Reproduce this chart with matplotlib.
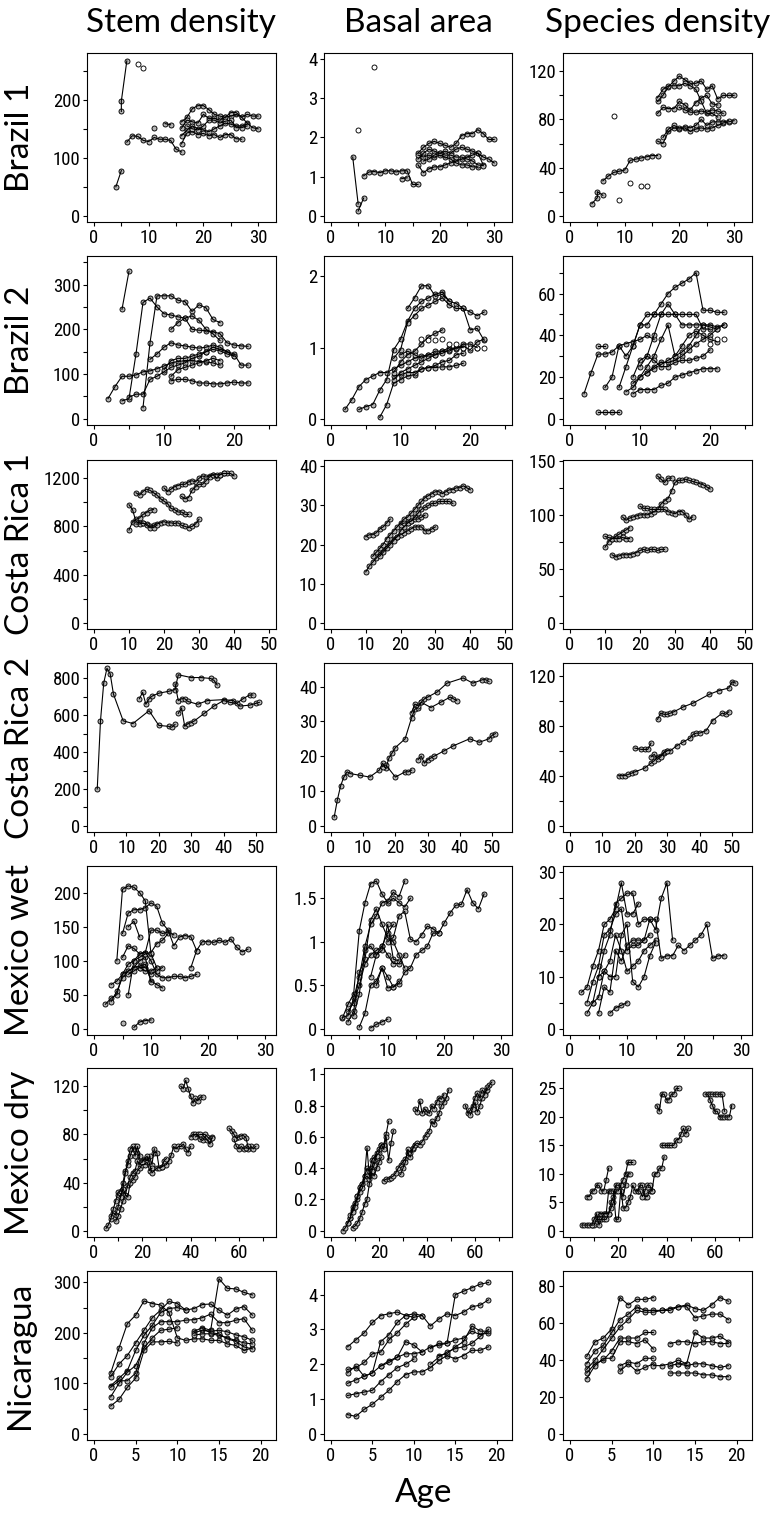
import matplotlib
matplotlib.use('Agg')
import matplotlib.pyplot as plt
from matplotlib.ticker import MultipleLocator, FuncFormatter


def yrs(a, b):
    # consecutive census years a..b
    return list(range(a, b + 1))


# ==== Brazil 1 ====
brazil1_stem = [
    ([4, 5], [50, 78]),
    ([5, 5, 6], [180, 198, 267]),
    (yrs(6, 16), [127, 138, 137, 130, 128, 135, 132, 132, 130, 115, 110]),
    ([11], [152]),
    ([13, 14], [159, 157]),
    (yrs(16, 30), [162, 170, 185, 190, 190, 183, 175, 172, 170, 172, 175, 170, 175, 172, 172]),
    (yrs(16, 30), [151, 165, 162, 160, 175, 168, 168, 165, 170, 178, 178, 170, 160, 152, 150]),
    (yrs(16, 28), [138, 148, 155, 150, 148, 145, 150, 155, 160, 158, 155, 155, 158]),
    (yrs(16, 27), [124, 143, 145, 140, 142, 138, 140, 135, 140, 140, 133, 132]),
    (yrs(17, 28), [155, 150, 148, 155, 165, 165, 160, 163, 165, 152, 152, 155]),
]
brazil1_stem_open = [([8, 9], [262, 255])]

brazil1_basal = [
    ([4, 5], [1.5, 0.3]),
    ([5, 6], [0.12, 0.45]),
    (yrs(6, 16), [1.02, 1.12, 1.13, 1.1, 1.15, 1.15, 1.12, 1.15, 1.15, 0.8, 0.8]),
    ([13, 14], [0.95, 0.97]),
    (yrs(16, 30), [1.6, 1.75, 1.85, 1.9, 1.85, 1.8, 1.75, 1.85, 2.05, 2.1, 2.1, 2.2, 2.1, 1.95, 1.95]),
    (yrs(16, 30), [1.45, 1.6, 1.7, 1.65, 1.6, 1.65, 1.6, 1.7, 1.75, 1.7, 1.65, 1.6, 1.5, 1.45, 1.35]),
    (yrs(16, 28), [1.3, 1.1, 1.2, 1.25, 1.25, 1.3, 1.35, 1.4, 1.45, 1.5, 1.55, 1.6, 1.3]),
    (yrs(16, 27), [1.55, 1.5, 1.55, 1.5, 1.55, 1.5, 1.45, 1.35, 1.3, 1.3, 1.25, 1.25]),
    (yrs(17, 28), [1.4, 1.45, 1.55, 1.6, 1.55, 1.55, 1.5, 1.5, 1.45, 1.4, 1.3, 1.28]),
]
brazil1_basal_open = [([5, 8], [2.2, 3.8])]

brazil1_species = [
    ([4, 5, 5, 6], [10, 15, 20, 17]),
    (yrs(6, 16), [29, 33, 36, 37, 38, 46, 47, 48, 49, 50, 50]),
    (yrs(16, 30), [62, 60, 70, 73, 72, 73, 70, 72, 73, 72, 73, 75, 77, 78, 79]),
    (yrs(16, 30), [95, 100, 107, 112, 116, 113, 110, 110, 112, 105, 108, 97, 100, 100, 100]),
    (yrs(16, 27), [85, 90, 89, 89, 95, 92, 88, 94, 98, 100, 93, 92]),
    (yrs(16, 27), [98, 105, 108, 108, 108, 110, 108, 105, 95, 85, 85, 82]),
    (yrs(17, 29), [65, 72, 75, 73, 74, 73, 75, 80, 75, 78, 78, 78, 79]),
    (yrs(20, 28), [90, 88, 86, 86, 87, 86, 88, 87, 85]),
]
brazil1_species_open = [([8, 9, 11, 13, 14], [83, 13, 27, 25, 25])]

# ==== Brazil 2 ====
brazil2_stem = [
    (yrs(2, 18), [45, 72, 95, 95, 98, 105, 107, 112, 118, 125, 128, 130, 130, 128, 127, 125, 120]),
    ([4, 5], [245, 330]),
    (yrs(4, 22), [40, 45, 145, 260, 270, 250, 235, 232, 228, 225, 200, 198, 197, 195, 190, 170, 165, 163, 162]),
    (yrs(5, 20), [48, 55, 55, 88, 95, 105, 115, 120, 125, 135, 140, 150, 160, 155, 150, 140]),
    (yrs(7, 18), [25, 170, 275, 275, 275, 265, 262, 240, 255, 248, 222, 215]),
    (yrs(8, 22), [133, 145, 160, 170, 165, 163, 160, 158, 160, 165, 160, 150, 145, 120, 120]),
    (yrs(11, 18), [200, 215, 225, 230, 220, 200, 190, 175]),
    (yrs(11, 22), [85, 88, 88, 85, 80, 80, 78, 78, 80, 82, 80, 80]),
    (yrs(10, 20), [110, 130, 135, 135, 140, 145, 150, 155, 152, 145, 140]),
    (yrs(11, 18), [95, 110, 115, 120, 125, 130, 135, 130]),
]
brazil2_stem_open = []

brazil2_basal = [
    (yrs(2, 19), [0.13, 0.27, 0.45, 0.55, 0.6, 0.65, 0.65, 0.7, 0.75, 0.8, 0.85, 0.88, 0.9, 0.95, 0.95, 0.95, 1.0, 1.0]),
    (yrs(4, 22), [0.13, 0.17, 0.2, 0.4, 0.55, 0.97, 1.12, 1.37, 1.55, 1.65, 1.7, 1.75, 1.78, 1.65, 1.62, 1.55, 1.25, 1.27, 1.1]),
    (yrs(7, 19), [0.02, 0.2, 0.5, 0.55, 0.6, 0.62, 0.7, 0.72, 0.75, 0.8, 0.82, 0.9, 0.92]),
    (yrs(9, 22), [0.85, 0.97, 1.35, 1.45, 1.55, 1.6, 1.65, 1.7, 1.6, 1.55, 1.55, 1.5, 1.45, 1.5]),
    (yrs(11, 17), [1.55, 1.7, 1.87, 1.87, 1.72, 1.75, 1.65]),
    (yrs(9, 19), [0.6, 0.62, 0.65, 0.65, 0.7, 0.72, 0.72, 0.73, 0.73, 0.75, 0.78]),
    (yrs(9, 16), [0.65, 0.8, 0.9, 0.95, 1.05, 1.15, 1.2, 1.25]),
    (yrs(10, 21), [0.9, 0.95, 0.9, 0.85, 0.9, 0.9, 0.95, 1.0, 0.98, 1.05, 1.05, 1.0]),
    (yrs(9, 22), [0.55, 0.65, 0.7, 0.75, 0.8, 0.85, 0.9, 0.92, 0.97, 1.0, 1.02, 0.97, 1.08, 1.12]),
]
brazil2_basal_open = [(yrs(13, 22), [1.12, 1.1, 1.1, 1.12, 1.05, 1.05, 1.0, 1.0, 1.0, 1.0])]

brazil2_species = [
    (yrs(2, 12), [12, 22, 31, 31, 32, 35, 36, 37, 38, 40, 38]),
    ([4, 5], [35, 35]),
    (yrs(4, 7), [3, 3, 3, 3]),
    (yrs(5, 22), [15, 20, 35, 30, 35, 45, 50, 50, 55, 60, 63, 65, 67, 70, 52, 52, 51, 51]),
    (yrs(7, 20), [15, 25, 35, 45, 45, 50, 50, 50, 50, 50, 50, 50, 43, 43]),
    (yrs(8, 22), [13, 15, 20, 25, 30, 38, 45, 30, 32, 35, 40, 45, 45, 44, 45]),
    (yrs(9, 21), [12, 14, 14, 14, 16, 17, 20, 21, 22, 23, 24, 24, 24]),
    (yrs(9, 22), [17, 20, 22, 25, 27, 27, 28, 30, 33, 36, 38, 40, 43, 45]),
    (yrs(9, 20), [20, 28, 30, 28, 25, 25, 27, 28, 28, 29, 30, 33]),
    (yrs(10, 21), [25, 30, 40, 50, 55, 50, 45, 45, 45, 45, 44, 43]),
    (yrs(11, 21), [22, 24, 26, 28, 30, 35, 40, 42, 40, 38, 37]),
]
brazil2_species_open = [([20, 21, 22], [36, 38, 38])]

# ==== Costa Rica 1 ====
costarica1_stem = [
    (yrs(10, 17), [770, 838, 860, 870, 900, 915, 935, 940]),
    (yrs(10, 30), [980, 940, 840, 830, 825, 820, 800, 810, 820, 830, 840, 830, 830, 825, 830, 810, 800, 790, 800, 820, 860]),
    (yrs(12, 27), [1080, 1060, 1090, 1110, 1100, 1080, 1060, 1030, 1010, 990, 950, 940, 920, 920, 900, 900]),
    (yrs(20, 40), [1120, 1090, 1110, 1130, 1140, 1150, 1150, 1170, 1180, 1170, 1200, 1220, 1210, 1220, 1230, 1200, 1230, 1240, 1240, 1240, 1220]),
    (yrs(25, 37), [1050, 1030, 1040, 1100, 1130, 1150, 1150, 1180, 1210, 1230, 1230, 1230, 1240]),
    (yrs(12, 18), [820, 820, 830, 810, 790, 790, 810]),
]
costarica1_basal = [
    (yrs(10, 30), [13, 14.5, 15.5, 16.5, 17.5, 18.5, 19.5, 20.5, 21.5, 22, 22.5, 23, 23.5, 24, 24.5, 24.5, 24.5, 23.5, 23.5, 24, 24.5]),
    (yrs(10, 17), [22, 22.5, 22.5, 23, 24, 24.5, 25.5, 26.5]),
    (yrs(12, 40), [17, 18, 19, 20, 21.5, 22.5, 23.5, 24.5, 25.5, 26.5, 27, 28, 29, 30, 31, 32, 32.5, 33, 33.5, 33.5,
                   33, 33.5, 34, 34, 34.5, 34.5, 35, 34.5, 34]),
    (yrs(14, 35), [17, 18, 19, 20, 21, 22, 23.5, 24.5, 25.5, 26, 27, 28, 29, 29.5, 30, 30.5, 30.5, 31, 31, 31, 31, 30.5]),
    (yrs(20, 27), [25, 25.5, 25.5, 26, 26.5, 26.5, 27, 27.5]),
]
costarica1_species = [
    (yrs(10, 17), [70, 75, 78, 80, 82, 84, 86, 88]),
    (yrs(10, 17), [80, 79, 78, 78, 78, 79, 78, 78]),
    (yrs(12, 27), [63, 61, 62, 63, 63, 63, 64, 65, 67, 68, 67, 68, 68, 67, 68, 68]),
    (yrs(15, 35), [98, 95, 97, 98, 99, 100, 100, 100, 101, 103, 105, 105, 105, 103, 102, 101, 103, 103, 100, 96, 98]),
    (yrs(20, 40), [108, 106, 106, 105, 105, 105, 110, 113, 115, 122, 130, 132, 132, 133, 132, 131, 130, 129, 128, 126, 124]),
    (yrs(25, 29), [136, 133, 130, 134, 134]),
]

# ==== Costa Rica 2 ====
costarica2_stem = [
    ([1, 2, 3, 4, 5, 6, 9, 12, 17, 20, 23, 24, 25], [200, 570, 775, 855, 825, 715, 570, 555, 625, 545, 540, 535, 550]),
    ([14, 15, 16, 17, 18, 20, 23, 25, 26, 30, 33, 36, 37, 38], [690, 725, 660, 690, 705, 720, 730, 740, 820, 805, 805, 800, 790, 765]),
    ([25, 26, 27, 28, 29, 32, 35, 40, 43, 45, 48, 50, 51], [770, 680, 690, 690, 675, 660, 680, 685, 680, 650, 655, 665, 670]),
    ([26, 27, 28, 29, 30, 31, 34, 37, 40, 42, 44, 46, 48, 49], [610, 640, 540, 555, 560, 570, 610, 650, 680, 670, 665, 690, 710, 710]),
]
costarica2_basal = [
    ([1, 2, 3, 4, 5, 6, 9, 12, 15, 16, 17, 18, 19, 20, 23, 25, 26, 27, 28, 29, 30, 33, 36, 41, 44, 47, 48, 49],
     [2.5, 7.5, 11.5, 14, 15.5, 15, 14.5, 14, 16, 18, 16.5, 19.5, 21, 22.5, 25, 31, 33.5, 34, 35.5, 36.5,
      37, 38.5, 41, 42.5, 41, 42, 42, 41.5]),
    ([16, 17, 20, 23, 24, 25], [17, 17.5, 14, 15.5, 15.5, 16]),
    ([25, 26, 27, 28, 31, 34, 37, 38, 39], [32.5, 35, 34.5, 35.5, 34, 35.5, 37, 36.5, 36]),
    ([27, 28, 29, 30, 31, 32, 35, 38, 43, 46, 49, 50, 51], [19, 20, 18, 19, 19.5, 20, 21.5, 23, 25, 24, 25, 26, 26.5]),
]
costarica2_species = [
    ([15, 16, 17, 18, 19, 20, 23, 25, 26, 27, 28, 29, 30, 31, 33, 35, 37, 38, 39, 40, 42, 44, 47, 48, 49],
     [40, 40, 40, 41, 42, 43, 46, 50, 52, 55, 56, 58, 60, 60, 64, 67, 70, 73, 74, 74, 76, 84, 90, 89, 91]),
    ([20, 22, 23, 24, 25], [62, 61, 61, 61, 66]),
    ([25, 26, 27, 28, 29, 30], [55, 57, 53, 55, 59, 60]),
    ([27, 28, 29, 30, 31, 32, 35, 38, 43, 46, 49, 50, 51], [85, 90, 89, 89, 90, 91, 95, 98, 105, 108, 110, 115, 114]),
]

# ==== Mexico wet ====
mexicowet_stem = [
    (yrs(2, 18), [36, 45, 50, 80, 95, 100, 110, 112, 100, 80, 75, 75, 77, 77, 75, 77, 80]),
    (yrs(3, 12), [65, 70, 80, 85, 90, 92, 95, 70, 65, 60]),
    (yrs(4, 11), [100, 205, 210, 208, 200, 188, 110, 90]),
    (yrs(5, 27), [140, 170, 175, 175, 178, 185, 180, 155, 145, 122, 135, 137, 135, 115, 128, 128, 127, 130, 127, 132,
                  120, 113, 117]),
    (yrs(5, 14), [105, 122, 118, 110, 112, 145, 145, 140, 142, 138]),
    (yrs(6, 8), [150, 158, 135]),
    (yrs(3, 10), [40, 55, 75, 85, 90, 100, 105, 68]),
    ([5], [8]),
    (yrs(7, 10), [2, 10, 12, 13]),
    (yrs(6, 13), [50, 100, 105, 110, 112, 125, 130, 140]),
    (yrs(8, 11), [90, 85, 85, 90]),
    (yrs(6, 12), [80, 85, 90, 90, 80, 85, 90]),
    ([17, 18], [90, 115]),
]
mexicowet_basal = [
    (yrs(2, 14), [0.12, 0.28, 0.4, 1.13, 1.45, 1.67, 1.7, 1.55, 1.45, 1.5, 1.45, 1.4, 1.5]),
    (yrs(2, 13), [0.13, 0.15, 0.35, 0.6, 0.95, 1.2, 1.3, 1.45, 1.47, 1.57, 1.52, 1.7]),
    (yrs(3, 13), [0.08, 0.2, 0.65, 0.8, 1.25, 1.38, 1.2, 1.05, 1.0, 0.85, 0.7]),
    (yrs(3, 13), [0.2, 0.3, 0.5, 0.75, 0.85, 0.9, 0.95, 0.85, 0.75, 0.75, 0.85]),
    (yrs(4, 11), [0.15, 0.4, 0.9, 0.95, 0.85, 0.95, 1.1, 1.2]),
    (yrs(5, 27), [0.02, 0.18, 0.5, 0.55, 0.7, 0.6, 0.48, 0.52, 0.65, 0.7, 0.85, 0.9, 0.95, 1.1, 1.1, 1.22, 1.33, 1.42,
                  1.43, 1.6, 1.45, 1.38, 1.55]),
    (yrs(7, 10), [0.01, 0.05, 0.08, 0.11]),
    (yrs(8, 12), [0.5, 0.7, 0.47, 0.48, 0.55]),
    (yrs(7, 12), [0.6, 0.85, 0.9, 1.2, 0.8, 0.78]),
    (yrs(10, 19), [1.0, 1.05, 1.3, 1.35, 1.03, 1.0, 1.08, 1.18, 1.15, 1.1]),
]
mexicowet_species = [
    (yrs(2, 12), [7, 8, 12, 15, 20, 21, 23, 28, 22, 22, 24]),
    (yrs(3, 18), [3, 5, 10, 15, 18, 24, 25, 26, 26, 20, 21, 21, 19, 25, 28, 17]),
    (yrs(3, 14), [5, 9, 12, 18, 19, 22, 23, 15, 16, 16, 17, 18]),
    (yrs(4, 15), [5, 6, 11, 13, 18, 15, 11, 12, 13, 15, 16, 17]),
    (yrs(5, 27), [3, 8, 7, 15, 13, 16, 17, 17, 17, 21, 21, 13.5, 14, 14, 16, 15, 16, 17, 18, 20, 13.5, 14, 14]),
    (yrs(7, 10), [3, 4, 4.5, 5]),
    (yrs(5, 15), [10, 11, 10, 10, 18, 20, 9, 8, 10, 14, 16.5]),
]

# ==== Mexico dry ====
mexicodry_stem = [
    (yrs(5, 19), [2, 5, 10, 18, 25, 32, 33, 40, 50, 55, 62, 68, 70, 65, 60]),
    (yrs(7, 25), [12, 15, 13, 20, 28, 35, 30, 38, 45, 48, 50, 58, 55, 58, 60, 58, 62, 55, 68]),
    (yrs(9, 24), [8, 12, 18, 25, 30, 28, 40, 42, 45, 50, 52, 55, 55, 57, 50, 52]),
    (yrs(10, 19), [30, 28, 35, 48, 58, 68, 70, 62, 70, 62]),
    ([20, 22, 24, 26, 28, 30, 31, 32, 33, 34, 35, 36, 37, 38, 39, 40],
     [57, 62, 48, 52, 53, 55, 58, 63, 70, 68, 70, 70, 72, 68, 65, 70]),
    (yrs(25, 30), [65, 65, 52, 53, 58, 60]),
    (yrs(36, 45), [120, 118, 125, 118, 112, 106, 110, 108, 111, 111]),
    (yrs(40, 49), [78, 80, 80, 80, 76, 75, 78, 75, 72, 78]),
    ([42, 44, 46, 47, 48, 49], [78, 80, 80, 78, 76, 77]),
    (yrs(56, 67), [85, 83, 80, 77, 78, 79, 79, 77, 68, 70, 68, 70]),
    (yrs(58, 64), [76, 70, 68, 70, 68, 69, 70]),
]
mexicodry_basal = [
    (yrs(5, 24), [0.0, 0.02, 0.05, 0.08, 0.13, 0.17, 0.2, 0.27, 0.3, 0.35, 0.4, 0.38, 0.45, 0.47, 0.48, 0.5, 0.55, 0.55,
                  0.62, 0.7]),
    (yrs(7, 26), [0.05, 0.08, 0.15, 0.18, 0.22, 0.28, 0.3, 0.35, 0.53, 0.35, 0.4, 0.45, 0.5, 0.52, 0.55, 0.52, 0.6, 0.45,
                  0.56, 0.64]),
    (yrs(9, 21), [0.02, 0.03, 0.05, 0.08, 0.12, 0.17, 0.2, 0.3, 0.37, 0.35, 0.4, 0.44, 0.47]),
    (yrs(8, 19), [0.1, 0.12, 0.15, 0.22, 0.25, 0.27, 0.33, 0.35, 0.33, 0.38, 0.42, 0.48]),
    (yrs(22, 35), [0.32, 0.33, 0.33, 0.34, 0.35, 0.37, 0.4, 0.42, 0.44, 0.46, 0.5, 0.47, 0.52, 0.55]),
    (yrs(29, 49), [0.36, 0.4, 0.44, 0.52, 0.5, 0.53, 0.55, 0.56, 0.55, 0.57, 0.6, 0.62, 0.64, 0.7, 0.68, 0.72, 0.75, 0.8,
                   0.82, 0.85, 0.9]),
    (yrs(35, 47), [0.78, 0.76, 0.83, 0.75, 0.78, 0.76, 0.75, 0.8, 0.78, 0.82, 0.85, 0.84, 0.87]),
    (yrs(56, 67), [0.8, 0.75, 0.77, 0.8, 0.85, 0.88, 0.85, 0.9, 0.88, 0.9, 0.93, 0.95]),
    (yrs(58, 65), [0.74, 0.78, 0.82, 0.76, 0.8, 0.85, 0.87, 0.92]),
]
mexicodry_species = [
    (yrs(5, 26), [1, 1, 1, 1, 1, 1, 2, 3, 3, 3, 3, 3, 5, 6, 8, 8, 8, 9, 10, 12, 12, 12]),
    (yrs(7, 16), [6, 6, 7, 7, 8, 8, 7, 7, 9, 11]),
    (yrs(9, 25), [1, 2, 3, 1, 2, 3, 3, 7, 7, 7, 2, 2, 7, 6, 8, 10, 10]),
    (yrs(11, 39), [2, 2, 2, 2, 2, 3, 4, 5, 7, 7, 8, 4, 4, 5, 6, 8, 7, 7, 8, 8, 6, 6, 7, 7, 10, 10, 11, 11, 13]),
    (yrs(28, 34), [7, 7, 6, 7, 8, 8, 7]),
    (yrs(36, 45), [22, 21, 24, 24, 23, 23, 24, 24, 25, 25]),
    (yrs(38, 49), [15, 15, 15, 15, 15, 15, 16, 16, 17, 18, 17, 18]),
    (yrs(56, 67), [24, 24, 23, 22, 21, 21, 20, 20, 20, 20, 20, 22]),
    (yrs(58, 64), [24, 24, 24, 24, 24, 24, 21]),
]

# ==== Nicaragua ====
nicaragua_stem = [
    (yrs(2, 19), [120, 170, 218, 235, 263, 258, 255, 240, 190, 185, 188, 188, 185, 185, 178, 175, 165, 170]),
    (yrs(2, 19), [113, 138, 155, 180, 205, 230, 245, 262, 258, 245, 248, 256, 257, 245, 235, 247, 252, 235]),
    (yrs(2, 11), [95, 110, 125, 165, 195, 215, 240, 248, 250, 245]),
    (yrs(2, 19), [92, 105, 105, 120, 180, 210, 222, 222, 222, 225, 226, 230, 237, 220, 220, 225, 228, 205]),
    (yrs(2, 10), [73, 100, 122, 135, 170, 190, 205, 207, 210]),
    (yrs(2, 10), [55, 68, 92, 110, 165, 182, 182, 183, 180]),
    (yrs(12, 19), [203, 210, 205, 307, 288, 287, 280, 275]),
    (yrs(12, 19), [200, 205, 203, 205, 202, 196, 192, 185]),
    (yrs(12, 19), [195, 198, 198, 195, 190, 185, 180, 178]),
    (yrs(13, 19), [208, 200, 198, 188, 183, 172, 168]),
]
nicaragua_basal = [
    (yrs(2, 19), [2.5, 2.7, 2.9, 3.2, 3.4, 3.45, 3.5, 3.4, 3.45, 3.4, 3.1, 3.3, 3.45, 3.4, 3.5, 3.65, 3.7, 3.85]),
    (yrs(2, 11), [1.85, 1.9, 2.05, 2.3, 2.35, 2.7, 2.9, 3.15, 3.35, 3.4]),
    (yrs(2, 10), [1.75, 1.95, 1.65, 1.75, 2.65, 2.85, 3.2, 3.4, 3.35]),
    (yrs(2, 19), [1.45, 1.55, 1.65, 1.75, 1.95, 2.1, 2.2, 2.3, 2.3, 2.35, 2.5, 2.55, 2.6, 4.0, 4.1, 4.2, 4.3, 4.35]),
    (yrs(2, 10), [1.1, 1.15, 1.2, 1.25, 1.5, 1.7, 1.9, 2.0, 2.15]),
    (yrs(2, 19), [0.55, 0.5, 0.7, 0.85, 1.05, 1.25, 1.5, 1.7, 1.78, 1.78, 1.9, 2.1, 2.25, 2.15, 2.25, 2.4, 2.4, 2.5]),
    (yrs(6, 11), [1.95, 2.05, 2.2, 2.65, 2.55, 2.35]),
    (yrs(12, 19), [2.45, 2.6, 2.6, 2.7, 2.75, 2.95, 2.85, 2.9]),
    (yrs(13, 19), [2.25, 2.3, 2.5, 2.65, 3.1, 2.95, 2.95]),
    (yrs(12, 19), [2.0, 2.2, 2.35, 2.45, 2.5, 2.6, 2.8, 3.0]),
]
nicaragua_species = [
    (yrs(2, 10), [42, 50, 52, 57, 74, 70, 73, 73, 74]),
    (yrs(2, 19), [38, 45, 48, 55, 62, 65, 69, 67, 67, 67, 68, 69, 70, 68, 67, 70, 74, 72]),
    (yrs(2, 19), [35, 40, 46, 52, 58, 62, 67, 66, 66, 67, 67, 69, 69, 63, 64, 65, 65, 62]),
    (yrs(2, 10), [33, 38, 40, 45, 52, 52, 52, 55, 55]),
    (yrs(2, 10), [30, 37, 41, 41, 50, 50, 49, 51, 46]),
    (yrs(6, 10), [34, 38, 34, 36, 38]),
    (yrs(6, 10), [37, 39, 38, 41, 41]),
    (yrs(13, 19), [38, 38, 55, 52, 52, 53, 50]),
    (yrs(12, 19), [49, 50, 50, 49, 50, 50, 49, 49]),
    (yrs(12, 19), [37, 38, 37, 38, 38, 37, 36, 37]),
    (yrs(12, 19), [33, 33, 33, 33, 32, 32, 31, 31]),
    (yrs(10, 14), [37, 37, 38, 40, 38]),
]

col_titles = ['Stem density', 'Basal area', 'Species density']
row_labels = ['Brazil 1', 'Brazil 2', 'Costa Rica 1', 'Costa Rica 2', 'Mexico wet', 'Mexico dry', 'Nicaragua']

# per row: (panels, x axis max, x tick step, x minor step)
# per panel: (connected series, open points, y axis max, y tick step, y minor step)
rows = [
    ([(brazil1_stem, brazil1_stem_open, 270, 100, 50), (brazil1_basal, brazil1_basal_open, 4.0, 1, None),
      (brazil1_species, brazil1_species_open, 130, 40, 20)], 32, 10, 5),
    ([(brazil2_stem, brazil2_stem_open, 350, 100, 50), (brazil2_basal, brazil2_basal_open, 2.2, 1, None),
      (brazil2_species, brazil2_species_open, 75, 20, 10)], 25, 10, 5),
    ([(costarica1_stem, [], 1300, 400, 200), (costarica1_basal, [], 40, 10, None),
      (costarica1_species, [], 145, 50, 25)], 50, 10, None),
    ([(costarica2_stem, [], 850, 200, 100), (costarica2_basal, [], 45, 10, None),
      (costarica2_species, [], 125, 40, 20)], 54, 10, None),
    ([(mexicowet_stem, [], 230, 50, None), (mexicowet_basal, [], 1.8, 0.5, None),
      (mexicowet_species, [], 30, 10, 5)], 30.7, 10, 5),
    ([(mexicodry_stem, [], 130, 40, 20), (mexicodry_basal, [], 1.0, 0.2, None),
      (mexicodry_species, [], 27.5, 5, None)], 72.5, 20, 10),
    ([(nicaragua_stem, [], 310, 100, 50), (nicaragua_basal, [], 4.5, 1, None),
      (nicaragua_species, [], 85, 20, None)], 21, 5, None),
]

W, H = 783, 1513
col_left = [87, 324, 563]
col_width = [189, 188, 189]
row_top = [53, 256, 460, 663, 866, 1068, 1271]
row_h = 169
big_font = ['Lato', 'DejaVu Sans']

plt.rcParams['font.family'] = ['Roboto Condensed', 'DejaVu Sans Condensed', 'Lato', 'DejaVu Sans']

fig = plt.figure(figsize=(W / 100, H / 100), dpi=100)
fmt = FuncFormatter(lambda v, p: '%g' % round(v, 6))

for r, (panels, xmax, xstep, xminor) in enumerate(rows):
    for c, (series, open_pts, ymax, ystep, yminor) in enumerate(panels):
        ax = fig.add_axes([col_left[c] / W, 1 - (row_top[r] + row_h) / H, col_width[c] / W, row_h / H])
        for ages, vals in series:
            # markers under the connecting line, as in the original
            ax.plot(ages, vals, 'o', linestyle='none', markersize=3.6, zorder=2,
                    markerfacecolor='#b4b4b4', markeredgecolor='black', markeredgewidth=0.65)
            ax.plot(ages, vals, '-', color='black', linewidth=0.8, zorder=3)
        for ages, vals in open_pts:
            ax.plot(ages, vals, 'o', linestyle='none', markersize=3.6, zorder=2,
                    markerfacecolor='white', markeredgecolor='black', markeredgewidth=0.65)
        ax.set_xlim(-0.04 * xmax, 1.04 * xmax)
        ax.set_ylim(-0.04 * ymax, 1.04 * ymax)
        ax.xaxis.set_major_locator(MultipleLocator(xstep))
        if xminor:
            ax.xaxis.set_minor_locator(MultipleLocator(xminor))
        ax.yaxis.set_major_locator(MultipleLocator(ystep))
        if yminor:
            ax.yaxis.set_minor_locator(MultipleLocator(yminor))
        ax.xaxis.set_major_formatter(fmt)
        ax.yaxis.set_major_formatter(fmt)
        ax.tick_params(which='major', direction='out', length=3.2, width=0.8, labelsize=13.5, pad=1.5)
        ax.tick_params(which='minor', direction='out', length=3.2, width=0.8)
        for sp in ax.spines.values():
            sp.set_linewidth(0.8)

    fig.text(20 / W, 1 - (row_top[r] + row_h / 2) / H, row_labels[r], rotation=90,
             ha='center', va='center', fontsize=24, family=big_font)

for c, title in enumerate(col_titles):
    fig.text((col_left[c] + col_width[c] / 2) / W, 1 - 23 / H, title,
             ha='center', va='center', fontsize=24, family=big_font)

fig.text(424 / W, 1 - 1493 / H, 'Age', ha='center', va='center', fontsize=24, family=big_font)

fig.savefig('out.png', dpi=100)
